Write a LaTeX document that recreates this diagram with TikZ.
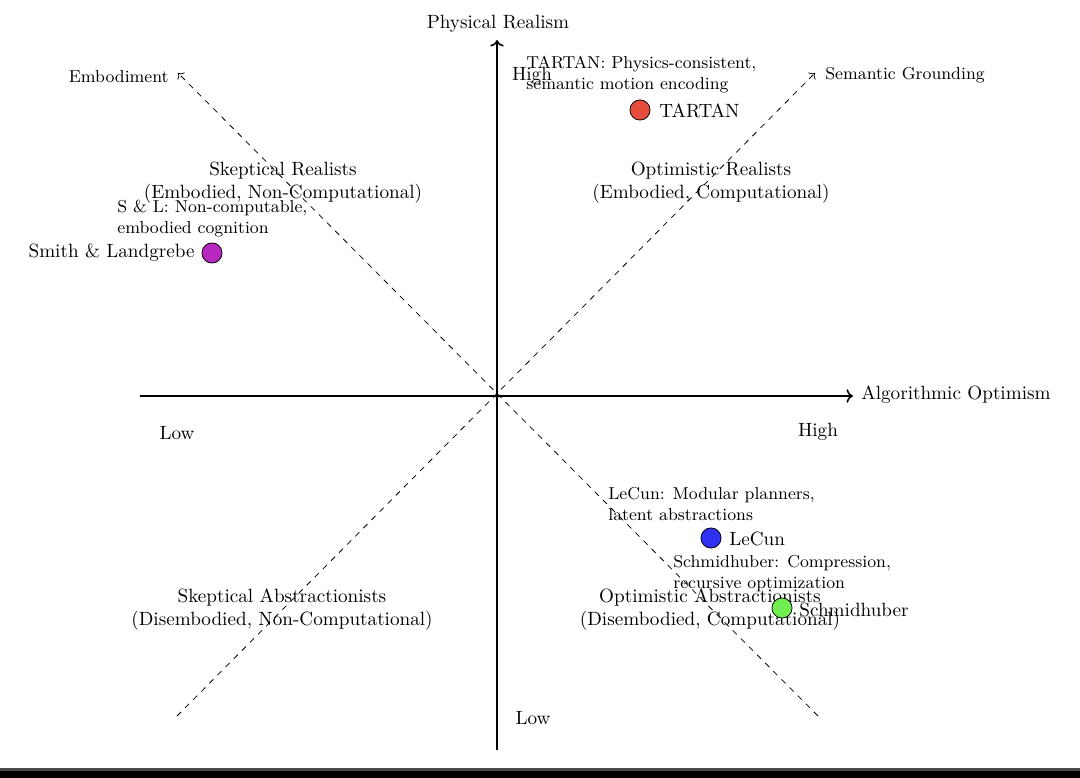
\documentclass[tikz,border=0pt]{standalone}
\usetikzlibrary{arrows.meta}
\definecolor{cTartan}{RGB}{231,76,60}
\definecolor{cSL}{RGB}{182,40,192}
\definecolor{cLeCun}{RGB}{48,48,240}
\definecolor{cSchmid}{RGB}{112,240,80}
\tikzset{
  axis/.style={line width=0.8pt},
  diag/.style={dashed, line width=0.4pt},
  lbl/.style={inner sep=0pt},
  annot/.style={inner sep=0pt, font=\small, align=left, anchor=west},
  quad/.style={inner sep=0pt, align=center},
  dotpt/.style={circle, draw=black, line width=0.4pt, minimum size=10.5pt, inner sep=0pt},
}
\begin{document}
\begin{tikzpicture}[x=0.5215pt,y=-0.5215pt]
\useasboundingbox (0,0) rectangle (1080,778);
\fill[black!70] (0,768) rectangle (1080,771);
\fill[black] (0,771) rectangle (1080,778);
% axes
\coordinate (O) at (497,396);
\coordinate (xL) at (140,396);
\coordinate (xR) at (853,396);
\coordinate (yB) at (497,750);
\coordinate (yT) at (497,40);
\coordinate (dNW) at (178,73);
\coordinate (dNE) at (815,73);
\coordinate (dSW) at (177,716);
\coordinate (dSE) at (818,716);
% quadrant labels
\node[quad] (qSR) at (283,183) {Skeptical Realists\\(Embodied, Non-Computational)};
\node[quad] (qOR) at (711,183) {Optimistic Realists\\(Embodied, Computational)};
\node[quad] (qSA) at (282,610) {Skeptical Abstractionists\\(Disembodied, Non-Computational)};
\node[quad] (qOA) at (710,610) {Optimistic Abstractionists\\(Disembodied, Computational)};
% axis lines
\draw[axis,->] (xL) -- (xR);
\draw[axis,->] (yB) -- (yT);
\draw[diag,->] (dSE) -- (dNW);
\draw[diag,->] (dSW) -- (dNE);
\fill (O) circle (2);
% axis labels
\node[lbl,anchor=west] (xlab) at (861,395) {Algorithmic Optimism};
\node[lbl] (ylab) at (498,24) {Physical Realism};
\node[lbl,anchor=east,font=\small] (embl) at (169,77) {Embodiment};
\node[lbl,anchor=west,font=\small] (seml) at (825,75) {Semantic Grounding};
\node[lbl] (lowx) at (177,433) {Low};
\node[lbl] (highx) at (818,432) {High};
\node[lbl] (highy) at (532,76) {High};
\node[lbl] (lowy) at (533,718) {Low};
% points
\node[dotpt,fill=cTartan] (pT) at (640,110) {};
\node[lbl,anchor=west] (lT) at (659,111) {TARTAN};
\node[annot] (aT) at (526,75) {TARTAN: Physics-consistent,\\semantic motion encoding};
\node[dotpt,fill=cSL] (pSL) at (212,253) {};
\node[lbl,anchor=east] (lSL) at (195,253) {Smith \& Landgrebe};
\node[annot] (aSL) at (117,219) {S \& L: Non-computable,\\embodied cognition};
\node[dotpt,fill=cLeCun] (pL) at (711,538) {};
\node[lbl,anchor=west] (lL) at (729,539) {LeCun};
\node[annot] (aL) at (608,504) {LeCun: Modular planners,\\latent abstractions};
\node[dotpt,fill=cSchmid] (pS) at (782,608) {};
\node[lbl,anchor=west] (lS) at (799,610) {Schmidhuber};
\node[annot] (aS) at (673,574) {Schmidhuber: Compression,\\recursive optimization};
\end{tikzpicture}
\end{document}
